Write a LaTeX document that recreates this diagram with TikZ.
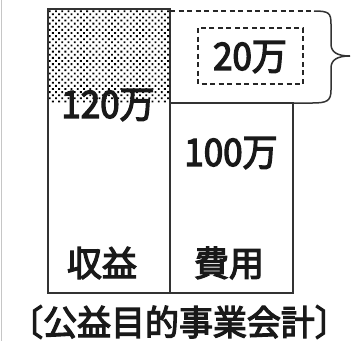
\documentclass[tikz,border=0pt]{standalone}
\usepackage{fontspec}
\setmainfont{Noto Sans CJK JP}
\newfontfamily\jpmed{Noto Sans CJK JP}[FakeBold=3.5]
\usetikzlibrary{patterns.meta}
\tikzset{
  boxline/.style={draw=black!80, line width=1.7pt},
  dashline/.style={draw=black!85, line width=1.7pt, dash pattern=on 5pt off 3.5pt},
  lbl/.style={font=\fontsize{35}{40}\selectfont\jpmed, inner sep=0pt, text=black!90},
  title/.style={font=\fontsize{35}{40}\selectfont\jpmed, inner sep=0pt, text=black!90},
}
\begin{document}
\begin{tikzpicture}[x=1pt,y=-1pt]
\useasboundingbox (0,0) rectangle (351,341);
% left scan edge
\draw[gray!45, line width=1.4pt] (1.5,0) -- (1.5,341);
% coordinates
\coordinate (LTL) at (48,9);
\coordinate (LTR) at (170,9);
\coordinate (LMR) at (170,102);
\coordinate (RTR) at (293,103);
\coordinate (RBR) at (293,293);
% dotted area
\fill[pattern={Dots[distance=4.4pt, radius=1.3pt, angle=45]}, pattern color=black] (LTL) rectangle (LMR);
% revenue box
\draw[boxline] (LTL) rectangle (170,293);
% expense box
\draw[boxline] (170,103) rectangle (RBR);
% dashed top line
\draw[dashline] (LTR) ++(0,2) -- (314,11);
% brace
\draw[boxline, line width=1.5pt] (314,11) .. controls (329,11) and (331,13) .. (331,24) -- (331,44)
  .. controls (331,52) and (337,56) .. (350,56)
  .. controls (337,56) and (331,60) .. (331,68) -- (331,90)
  .. controls (331,101) and (327,103) .. (312,103) -- (RTR);
% inner dashed box
\draw[dashline] (198,28) rectangle (303,84);
% labels
\node[lbl, yscale=1.08] (diff) at (250,57) {20万};
\node[lbl, yscale=1.08] (rev) at (108,105) {120万};
\node[lbl, yscale=1.08] (exp) at (231,153) {100万};
\node[lbl] (revl) at (102,263) {収益};
\node[lbl] (expl) at (229,263) {費用};
\node[title, xscale=0.97] (ttl) at (179,322) {〔公益目的事業会計〕};
\end{tikzpicture}
\end{document}
